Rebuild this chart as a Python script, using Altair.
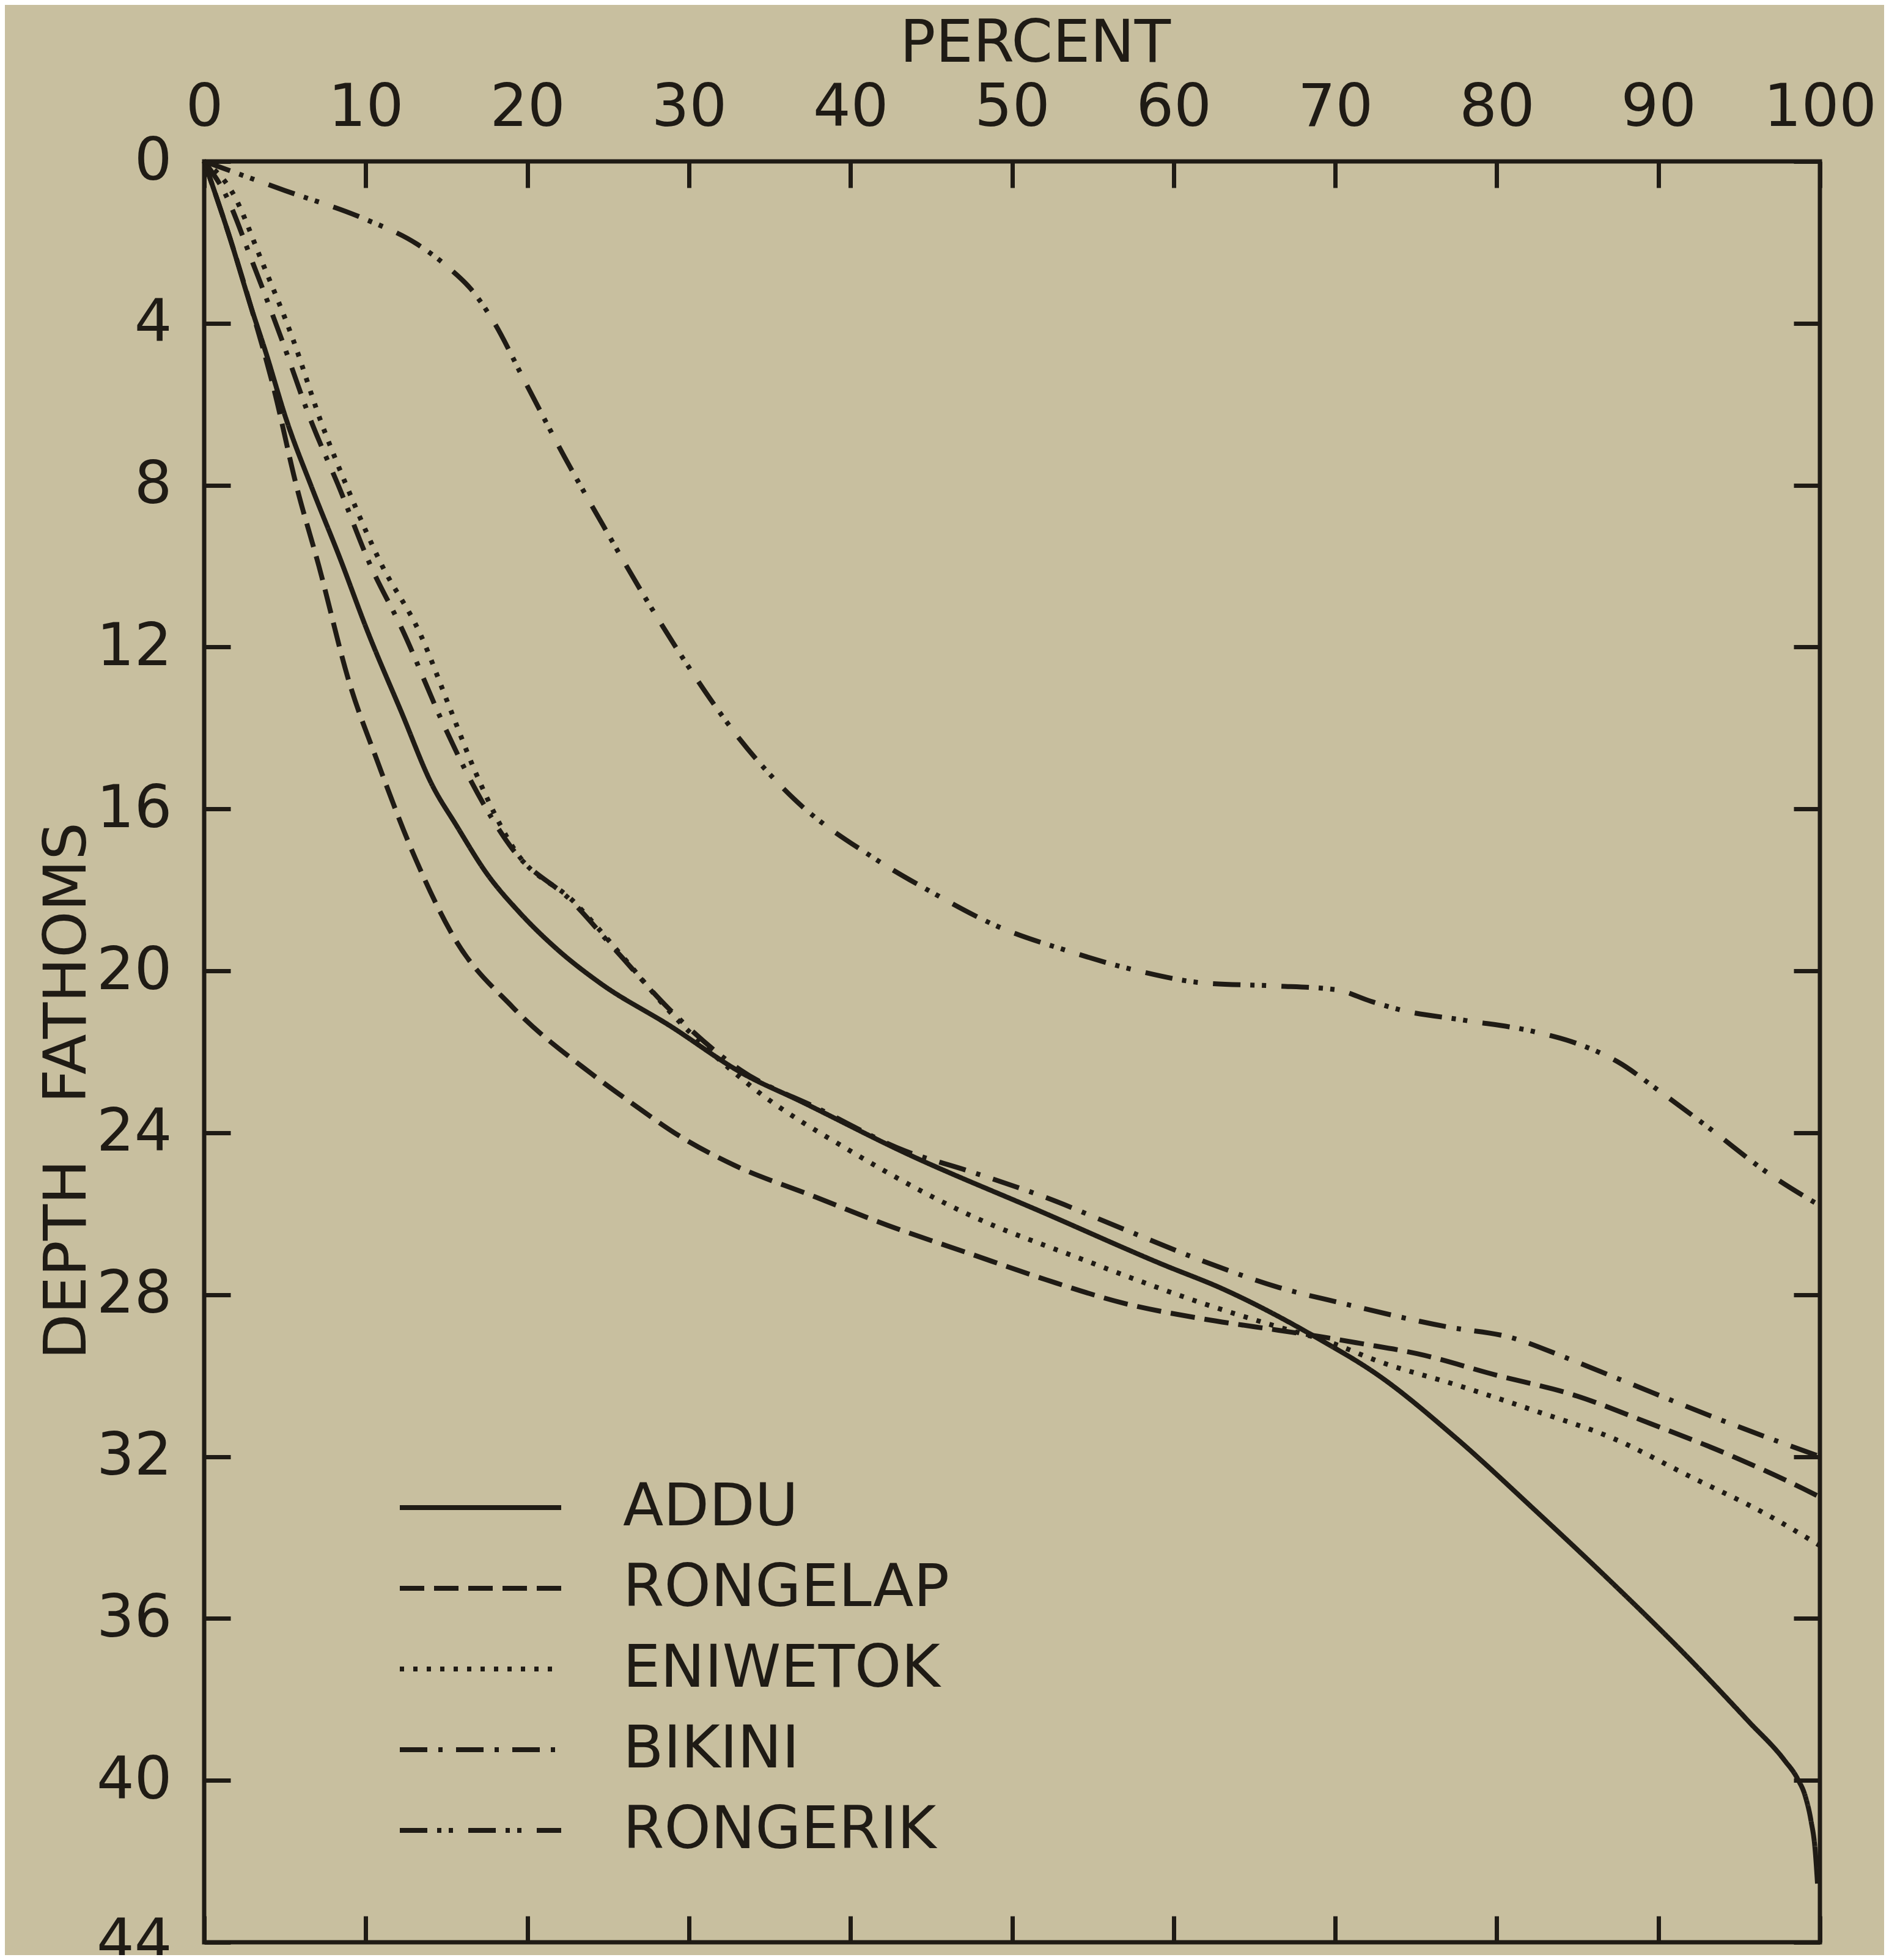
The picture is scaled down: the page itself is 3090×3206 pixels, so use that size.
import altair as alt
import pandas as pd

INK = "#1f1b15"
PAPER = "#c8bf9f"
FONT = "DejaVu Sans"

ATOLLS = ["ADDU", "RONGELAP", "ENIWETOK", "BIKINI", "RONGERIK"]
DASHES = [[1, 0], [40, 16], [7, 15], [45, 18, 7, 22], [45, 16, 7, 12, 7, 25]]

X_TICKS = list(range(0, 101, 10))
Y_TICKS = list(range(0, 45, 4))

ADDU_PCT = [0, 1.6, 2.9, 3.8, 5.1, 6.7, 8.4, 10.1, 12.2, 14.1, 15.6, 17.5, 19.5, 21.8, 24.5, 28.8,
            33.4, 36.8, 43.4, 52.1, 59.3, 63.0, 68.8, 72.7, 77.5, 82.3, 86.7, 91.8, 95.6, 97.8,
            98.6, 99.1, 99.45, 99.7, 99.85]
ADDU_FATH = [0, 1.9, 3.6, 4.7, 6.4, 8.1, 9.8, 11.6, 13.6, 15.4, 16.4, 17.6, 18.55, 19.45, 20.3, 21.35,
             22.55, 23.2, 24.5, 26.0, 27.25, 27.85, 29.05, 30.0, 31.55, 33.3, 34.95, 36.95, 38.55, 39.5,
             39.95, 40.4, 41.0, 41.7, 42.55]

RONGELAP_PCT = [0, 1.6, 2.9, 4.3, 5.7, 7.1, 9.0, 10.7, 13.1, 15.5, 19.1, 24.0, 26.4, 29.5, 32.8, 37.6,
                42.4, 47.2, 52.1, 56.9, 61.7, 66.5, 69.0, 71.5, 75.1, 79.9, 84.7, 89.6, 94.4, 99.0, 100]
RONGELAP_FATH = [0, 1.9, 3.6, 5.6, 8.0, 10.0, 12.9, 14.8, 17.25, 19.2, 20.9, 22.55, 23.25, 24.1, 24.8, 25.55,
                 26.3, 26.96, 27.63, 28.21, 28.59, 28.88, 29.03, 29.2, 29.46, 29.98, 30.47, 31.2, 31.96, 32.8, 33.0]

ENIWETOK_PCT = [0, 1.75, 3.6, 5.5, 7.2, 8.9, 10.9, 13.4, 15.2, 16.8, 19.2, 22.9, 25.8, 28.8, 34.0, 40.0,
                47.2, 54.5, 61.7, 66.5, 69.5, 72.7, 77.5, 82.3, 87.2, 92.0, 96.8, 100]
ENIWETOK_FATH = [0, 0.77, 2.5, 4.4, 6.4, 8.1, 9.9, 11.7, 13.5, 15.1, 17.0, 18.3, 19.6, 21.0, 22.9, 24.45,
                 26.0, 27.15, 28.2, 28.8, 29.15, 29.65, 30.23, 30.86, 31.55, 32.5, 33.45, 34.2]

BIKINI_PCT = [0, 1.3, 3.0, 4.8, 6.6, 8.4, 10.2, 12.3, 14.8, 16.5, 19.1, 22.8, 25.6, 28.8, 33.2, 38.0,
              43.4, 47.2, 52.1, 56.9, 61.7, 66.5, 70.3, 77.0, 80.9, 84.3, 87.6, 93.9, 98.4, 100]
BIKINI_FATH = [0, 0.8, 2.5, 4.4, 6.4, 8.1, 9.9, 11.6, 13.9, 15.3, 17.0, 18.3, 19.55, 20.95, 22.45, 23.4,
               24.45, 24.93, 25.6, 26.38, 27.15, 27.82, 28.2, 28.8, 29.06, 29.56, 30.09, 31.1, 31.77, 32.0]

RONGERIK_PCT = [0, 5.0, 9.8, 13.2, 15.2, 16.5, 17.9, 19.8, 22.3, 24.7, 27.1, 30.0, 33.1, 36.5, 41.4, 45.0,
                49.1, 53.4, 57.8, 61.9, 66.2, 70.0, 72.2, 74.1, 78.0, 82.3, 85.0, 87.5, 90.0, 93.2, 96.8, 100]
RONGERIK_FATH = [0, 0.72, 1.4, 2.05, 2.65, 3.15, 3.95, 5.4, 7.3, 9.0, 10.65, 12.5, 14.25, 15.75, 17.2, 18.05,
                 18.9, 19.5, 20.0, 20.3, 20.37, 20.46, 20.75, 20.97, 21.22, 21.5, 21.8, 22.25, 22.95, 23.9, 25.0, 25.8]

SERIES = {
    "ADDU": (ADDU_PCT, ADDU_FATH),
    "RONGELAP": (RONGELAP_PCT, RONGELAP_FATH),
    "ENIWETOK": (ENIWETOK_PCT, ENIWETOK_FATH),
    "BIKINI": (BIKINI_PCT, BIKINI_FATH),
    "RONGERIK": (RONGERIK_PCT, RONGERIK_FATH),
}

rows = []
for name, (px, fy) in SERIES.items():
    for i, (a, b) in enumerate(zip(px, fy)):
        rows.append({"atoll": name, "pct": a, "fathoms": b, "idx": i})
df = pd.DataFrame(rows)

W, H = 2643, 2913
TICK = 43
FS = 97

xscale = alt.Scale(domain=[0, 100], nice=False, zero=False)
yscale = alt.Scale(domain=[0, 44], nice=False, zero=False, reverse=True)

axis_common = dict(
    domain=False, grid=False, tickSize=TICK, tickWidth=7, tickColor=INK,
    offset=-TICK, labelFont=FONT, labelFontSize=FS, labelColor=INK,
    labelFlush=False, labelOverlap=False, labelBound=False, labelLimit=2000,
    titleFont=FONT, titleFontSize=FS, titleFontWeight="normal", titleColor=INK,
    titleLimit=3000,
)

x_top = alt.Axis(orient="top", values=X_TICKS, labelPadding=59, labelBaseline="alphabetic",
                 title="PERCENT", titleX=1359, titleY=-207, titleAlign="center",
                 titleBaseline="alphabetic", titleAngle=0, **axis_common)
y_left = alt.Axis(orient="left", values=Y_TICKS, labelPadding=53, labelAlign="right",
                  labelBaseline="middle", title="DEPTH\u00a0\u00a0\u00a0FATHOMS", titleX=-238, titleY=1520,
                  titleAngle=270, titleAlign="center", titleBaseline="alphabetic", **axis_common)
x_bottom = alt.Axis(orient="bottom", values=X_TICKS, labels=False, title=None, **axis_common)
y_right = alt.Axis(orient="right", values=Y_TICKS, labels=False, title=None, **axis_common)

lines = alt.Chart(df).mark_line(color=INK, strokeWidth=8, interpolate="monotone").encode(
    x=alt.X("pct:Q", scale=xscale, axis=x_top),
    y=alt.Y("fathoms:Q", scale=yscale, axis=y_left),
    strokeDash=alt.StrokeDash(
        "atoll:N",
        scale=alt.Scale(domain=ATOLLS, range=DASHES),
        legend=alt.Legend(
            orient="none", legendX=316, legendY=2136, title=None,
            symbolType="stroke", symbolSize=69696, symbolStrokeWidth=8,
            symbolStrokeColor=INK, labelFont=FONT, labelFontSize=FS, labelColor=INK,
            labelOffset=97, clipHeight=132, rowPadding=0, padding=0,
            labelBaseline="middle", labelLimit=2000,
        ),
    ),
    order="idx:Q",
    detail="atoll:N",
)

frame = alt.Chart(df).mark_point(opacity=0).encode(
    x=alt.X("pct:Q", scale=xscale, axis=x_bottom),
    y=alt.Y("fathoms:Q", scale=yscale, axis=y_right),
)

chart = alt.layer(lines, frame).resolve_axis(x="independent", y="independent").properties(
    width=W, height=H,
    background=PAPER,
    autosize=alt.AutoSizeParams(type="none"),
    padding={"left": 326, "top": 256, "right": 105, "bottom": 21},
).configure_view(stroke=INK, strokeWidth=7, fill=None)

chart.save("out.html", embed_options={"renderer": "svg", "actions": False})
